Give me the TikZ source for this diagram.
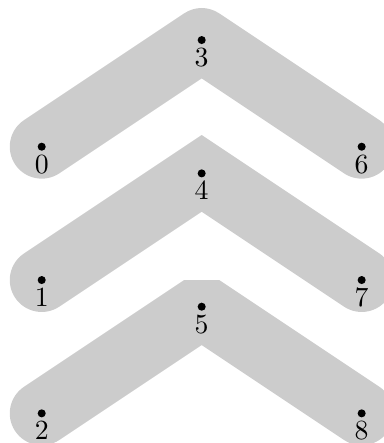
\documentclass[tikz,border=0pt]{standalone}
\usetikzlibrary{backgrounds}
\tikzset{
  vertex/.style={circle, fill=black, inner sep=0pt, minimum size=2.9pt},
  chevron/.style={line width=23pt, draw=black!20, line cap=round},
}
\begin{document}
\begin{tikzpicture}[x=0.675cm, y=0.675cm]
  \useasboundingbox (-0.782,-5.556) rectangle (6.419,2.751);
  % 3x3 vertices, numbered down each column; middle column raised
  \foreach \c/\h in {0/0, 1/2, 2/0} {
    \foreach \r in {0,1,2} {
      \pgfmathtruncatemacro{\k}{3*\c+\r}
      \node[vertex, label={[inner sep=1.2pt]below:$\k$}] (n\k) at (3*\c, -2.5*\r+\h) {};
    }
  }

  % thick chevrons behind the vertices, one join style per row
  \begin{scope}[on background layer]
    \draw[chevron, line join=round] (n0.center) -- (n3.center) -- (n6.center);
    \draw[chevron, line join=miter] (n1.center) -- (n4.center) -- (n7.center);
    \draw[chevron, line join=bevel] (n2.center) -- (n5.center) -- (n8.center);
  \end{scope}
\end{tikzpicture}
\end{document}
